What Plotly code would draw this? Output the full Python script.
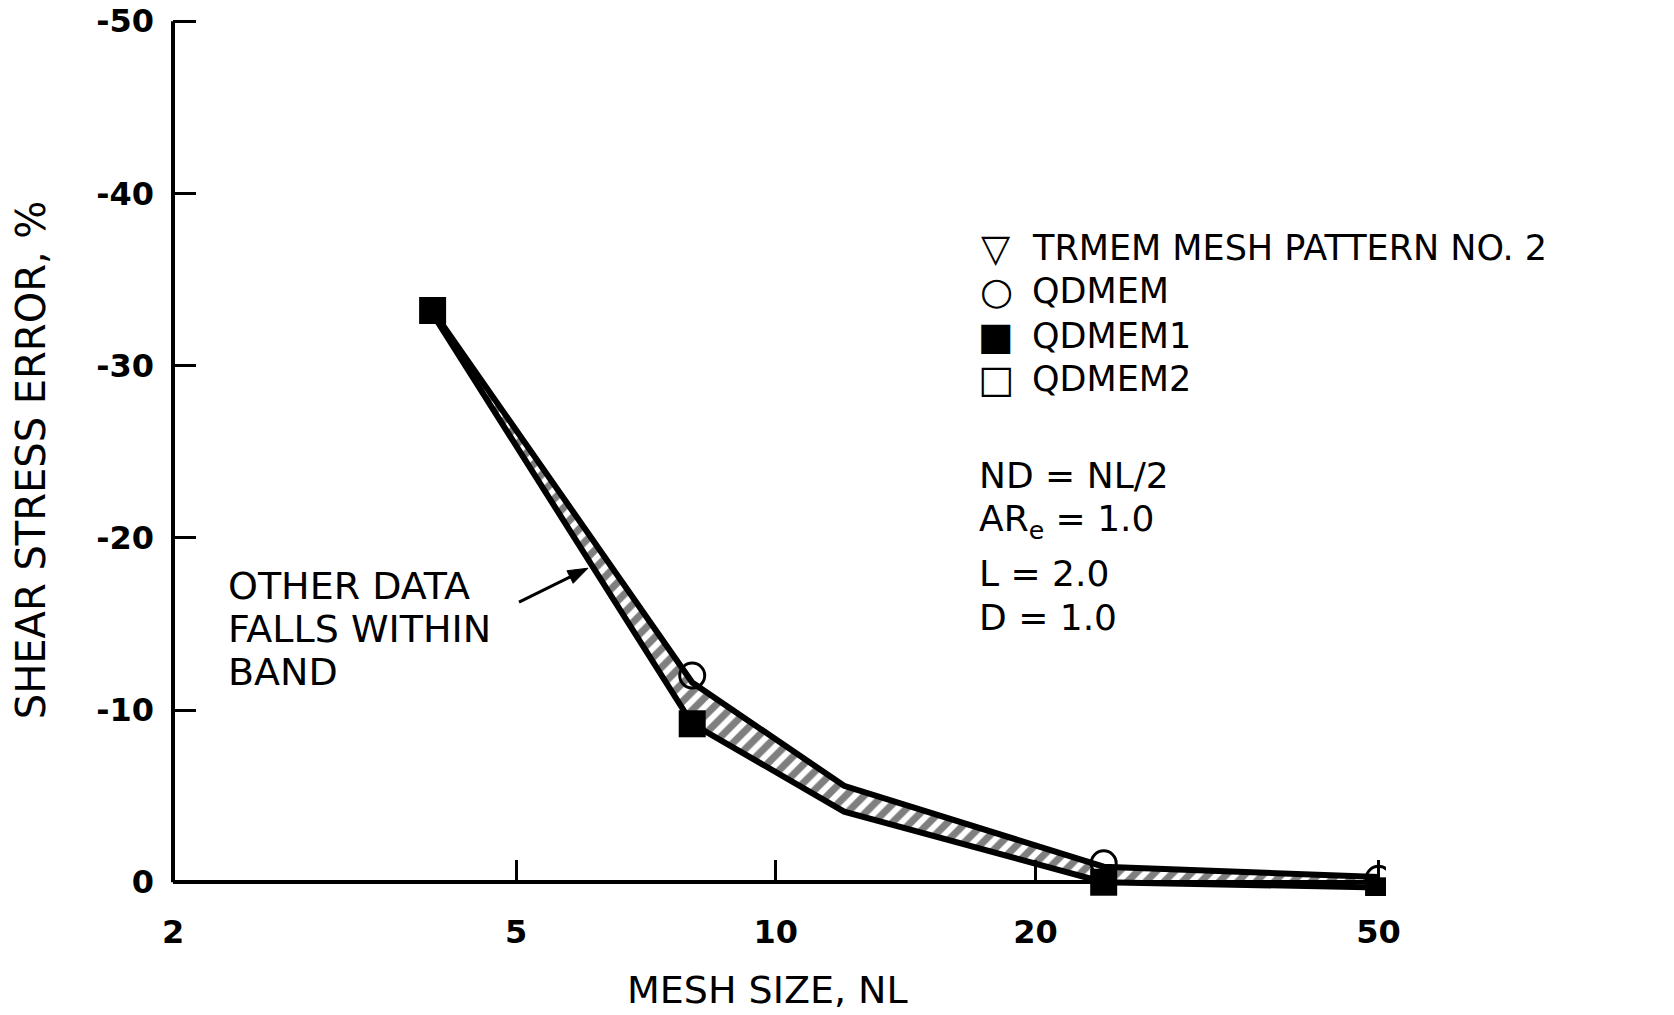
import math
import plotly.graph_objects as go

# ---------------- data ----------------
nl_band = [4, 8, 12, 24, 50]
band_upper = [-33.2, -11.6, -5.6, -0.9, -0.3]   # more-negative edge of band
band_lower = [-33.0, -9.2, -4.1, 0.0, 0.3]      # less-negative edge of band

nl_qdmem = [8, 24, 50]
err_qdmem = [-12.0, -1.1, -0.2]

nl_qdmem1 = [4, 8, 24, 50]
err_qdmem1 = [-33.2, -9.2, 0.0, 0.5]

x_ticks = [2, 5, 10, 20, 50]
y_ticks = [0, -10, -20, -30, -40, -50]

legend_glyphs = ["\u25BD", "\u25CB", "\u25A0", "\u25A1"]
legend_labels = ["TRMEM MESH PATTERN NO. 2", "QDMEM", "QDMEM1", "QDMEM2"]
param_lines = ["ND = NL/2", "AR<sub>e</sub> = 1.0", "L = 2.0", "D = 1.0"]
note_lines = ["OTHER DATA", "FALLS WITHIN", "BAND"]

# ---------------- layout geometry ----------------
W, H = 1674, 1015
OFF = 0                       # page body margin removed by post_script below
AX_LO, AX_HI = -50, 0         # extent of the drawn y-axis line
Y_TOP = -50.3                 # a little room above -50 so its tick is kept
Y_PAD = 0.8                   # small room below zero for the last points
X0_S, X1_S = 173, 1386        # plot left/right on screen
Y50_S, YZERO_S = 21, 882      # screen y of -50 and of 0
unit = (YZERO_S - Y50_S) / (AX_HI - AX_LO)
YBOT_S = YZERO_S + Y_PAD * unit
YTOP_S = Y50_S - (AX_LO - Y_TOP) * unit

L, R = X0_S - OFF, X1_S - OFF
T, B = YTOP_S - OFF, YBOT_S - OFF


def px(xs):
    return (xs - X0_S) / (X1_S - X0_S)


def py(ys):
    return (YBOT_S - ys) / (YBOT_S - YTOP_S)


FONT = "DejaVu Sans"
black = "black"

fig = go.Figure()

# band (lower edge, then upper edge filled to it with hatching)
fig.add_trace(go.Scatter(
    x=nl_band, y=band_lower, mode="lines",
    line=dict(color=black, width=6), showlegend=False, hoverinfo="skip"))
fig.add_trace(go.Scatter(
    x=nl_band, y=band_upper, mode="lines",
    line=dict(color=black, width=6), fill="tonexty",
    fillcolor="white",
    fillpattern=dict(shape="/", fgcolor=black, bgcolor="white", size=13, solidity=0.55),
    showlegend=False, hoverinfo="skip"))

# QDMEM1 filled squares
fig.add_trace(go.Scatter(
    x=nl_qdmem1, y=err_qdmem1, mode="markers", name="QDMEM1",
    marker=dict(symbol="square", size=27, color=black, line=dict(width=0)),
    showlegend=False))

# QDMEM open circles
fig.add_trace(go.Scatter(
    x=nl_qdmem, y=err_qdmem, mode="markers", name="QDMEM",
    marker=dict(symbol="circle-open", size=25, color=black, line=dict(width=3, color=black)),
    showlegend=False))

annotations = []

# legend block (glyph + label)
legend_y = [248, 291, 336, 379]
for g, lab, yy in zip(legend_glyphs, legend_labels, legend_y):
    annotations.append(dict(xref="paper", yref="paper", x=px(996), y=py(yy),
                            text=g, showarrow=False, xanchor="center", yanchor="middle",
                            font=dict(family=FONT, size=38, color=black)))
    annotations.append(dict(xref="paper", yref="paper", x=px(1030), y=py(yy),
                            text=lab, showarrow=False, xanchor="left", yanchor="middle",
                            font=dict(family=FONT, size=35, color=black)))

# parameter block
param_y = [475, 521, 573, 617]
for txt, yy in zip(param_lines, param_y):
    annotations.append(dict(xref="paper", yref="paper", x=px(977), y=py(yy),
                            text=txt, showarrow=False, xanchor="left", yanchor="middle",
                            font=dict(family=FONT, size=36, color=black)))

# note text
note_y = [586, 629, 672]
for txt, yy in zip(note_lines, note_y):
    annotations.append(dict(xref="paper", yref="paper", x=px(226), y=py(yy),
                            text=txt, showarrow=False, xanchor="left", yanchor="middle",
                            font=dict(family=FONT, size=38, color=black)))

# axis titles
annotations.append(dict(xref="paper", yref="paper", x=px(31), y=py(460),
                        text="SHEAR STRESS ERROR, %", textangle=-90, showarrow=False,
                        xanchor="center", yanchor="middle",
                        font=dict(family=FONT, size=40, color=black)))
annotations.append(dict(xref="paper", yref="paper", x=px(767), y=py(990),
                        text="MESH SIZE, NL", showarrow=False,
                        xanchor="center", yanchor="middle",
                        font=dict(family=FONT, size=38, color=black)))

# arrow from note text to the band (line + head as shapes)
tail = (519, 602)
tip = (588, 568)
dx, dy = tip[0] - tail[0], tip[1] - tail[1]
ln = math.hypot(dx, dy)
ux, uy = dx / ln, dy / ln
head_len, head_w = 20, 7
bx, by = tip[0] - ux * head_len, tip[1] - uy * head_len
p1 = (bx - uy * head_w, by + ux * head_w)
p2 = (bx + uy * head_w, by - ux * head_w)
shapes = [
    # y-axis line from 0 up to -50 (axis line itself hidden so it stops at the ends)
    dict(type="line", xref="paper", yref="y", x0=0, x1=0, y0=AX_HI, y1=AX_LO,
         line=dict(color=black, width=4)),
    dict(type="line", xref="paper", yref="paper",
         x0=px(tail[0]), y0=py(tail[1]), x1=px(bx + ux * 3), y1=py(by + uy * 3),
         line=dict(color=black, width=3)),
    dict(type="path", xref="paper", yref="paper",
         path="M {:.5f},{:.5f} L {:.5f},{:.5f} L {:.5f},{:.5f} Z".format(
             px(tip[0]), py(tip[1]), px(p1[0]), py(p1[1]), px(p2[0]), py(p2[1])),
         fillcolor=black, line=dict(color=black, width=1)),
]

tickfont = dict(family=FONT, size=32, color=black, weight="bold")

fig.update_layout(
    width=W, height=H,
    margin=dict(l=L, r=W - R, t=max(T, 0), b=H - B, autoexpand=False),
    paper_bgcolor="white", plot_bgcolor="white",
    showlegend=False,
    annotations=annotations,
    shapes=shapes,
    xaxis=dict(type="log", range=[math.log10(2), math.log10(51)],
               anchor="free", position=Y_PAD / (AX_HI - Y_TOP + Y_PAD),
               tickvals=x_ticks, ticktext=[str(v) for v in x_ticks],
               ticks="inside", ticklen=20, tickwidth=3, tickcolor=black,
               showline=True, linewidth=4, linecolor=black, mirror=False,
               showgrid=False, zeroline=False, tickfont=tickfont,
               ticklabelstandoff=20, ticklabeloverflow="allow"),
    yaxis=dict(range=[Y_PAD, Y_TOP], tickvals=y_ticks,
               ticktext=[str(v) for v in y_ticks],
               ticks="inside", ticklen=23, tickwidth=3, tickcolor=black,
               showline=False, mirror=False,
               showgrid=False, zeroline=False, tickfont=tickfont,
               ticklabelstandoff=18, ticklabeloverflow="allow"),
)

fig.write_html(
    "out.html",
    config={"displayModeBar": False},
    post_script="document.body.style.margin='0px';document.body.style.overflow='hidden';",
)
